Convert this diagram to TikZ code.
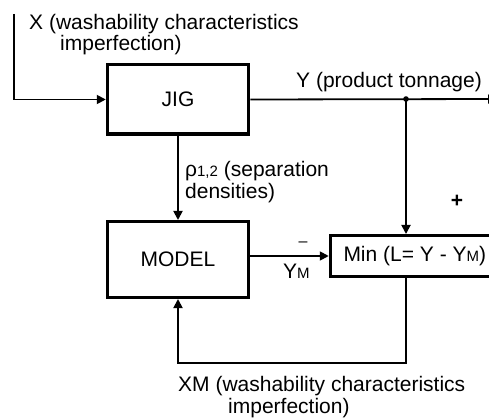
\documentclass[tikz,border=0pt]{standalone}
\usepackage{fontspec}
\setmainfont{Liberation Sans}
\usetikzlibrary{arrows.meta}
\newcommand{\fs}{\fontsize{21}{22}\selectfont}
\newcommand{\sm}[1]{{\fontsize{15}{15}\selectfont #1}}
\begin{document}
\begin{tikzpicture}[x=1pt,y=-1pt,
  box/.style={draw, line width=3.5pt, font=\fs, inner sep=0pt},
  wire/.style={line width=1.8pt},
  arr/.style={wire, -{Triangle[length=9pt,width=9pt]}},
  lbl/.style={anchor=base west, inner sep=0pt, font=\fs}]
\useasboundingbox (0,0) rectangle (489,419);
\clip (0,0) rectangle (489,419);
\node[box, minimum width=141pt, minimum height=69.5pt] (jig) at (178,99.5) {JIG};
\node[box, minimum width=141pt, minimum height=75.5pt] (model) at (178,259.5) {MODEL};
\node[box, anchor=west, minimum height=40.5pt, inner xsep=13pt] (min) at (328.75,256) {Min (L= Y - Y\sm{M})};
\coordinate (xin) at (14,14);
\coordinate (dot) at (406,99);
\coordinate (yout) at (497,99);
\coordinate (fb) at (406,363);
\draw[arr] (xin) |- (jig.west);
\draw[arr] (jig.east) -- (yout);
\fill (dot) circle (2.8);
\draw[arr] (dot) -- (dot |- min.north);
\draw[arr] (jig.south) -- (model.north);
\draw[arr] (min.west -| model.east) -- (min.west);
\draw[arr] (fb |- min.south) -- (fb) -| (model.south);
\node[lbl] (xl1) at (29,30) {X (washability characteristics};
\node[lbl] (xl2) at (60,51) {imperfection)};
\node[lbl] (yl) at (296,88) {Y (product tonnage)};
\node[lbl] (rl1) at (185,177) {ρ\sm{1,2} (separation};
\node[lbl] (rl2) at (185,199) {densities)};
\node[font=\bfseries\fs, inner sep=0pt] (plus) at (457,201) {+};
\node[anchor=base, inner sep=0pt, font=\fontsize{16}{16}\selectfont] (minus) at (303,247) {–};
\node[lbl] (yml) at (283,278) {Y\sm{M}};
\node[lbl] (xm1) at (178,391) {XM (washability characteristics};
\node[lbl] (xm2) at (228,413) {imperfection)};
\end{tikzpicture}
\end{document}
